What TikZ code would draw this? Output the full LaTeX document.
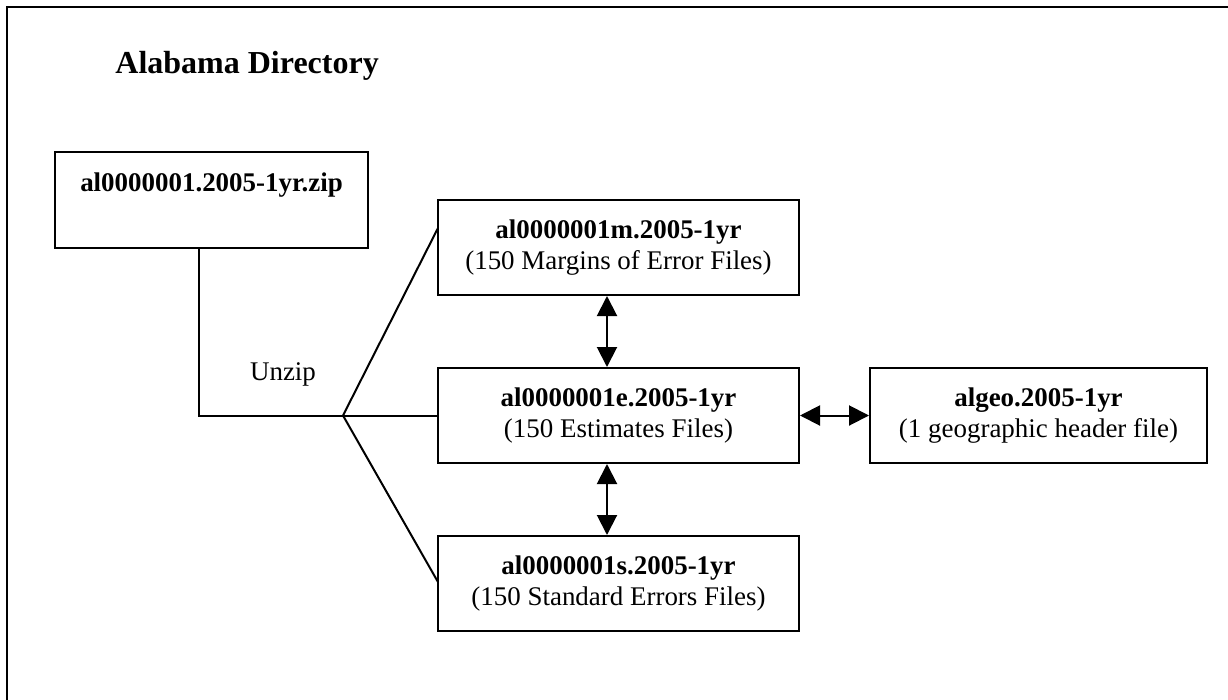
\documentclass[tikz,border=0pt]{standalone}
\usepackage{fontspec}
\setmainfont{Liberation Serif}
\usetikzlibrary{arrows.meta}
\begin{document}
\begin{tikzpicture}[x=0.475pt,y=-0.475pt,
  every node/.style={font=\fontsize{12.8}{15}\selectfont},
  filebox/.style={draw, line width=0.95pt, inner sep=0pt, align=center},
  conn/.style={line width=0.95pt},
  biarrow/.style={line width=0.95pt, {Triangle[length=9.5pt,width=9.5pt]}-{Triangle[length=9.5pt,width=9.5pt]}}]
\useasboundingbox (0,0) rectangle (1228,699);
\draw[line width=1pt] (7,705) -- (7,7) -- (1235,7);
\node[anchor=base west, inner sep=0pt, font=\fontsize{15.2}{18}\selectfont\bfseries] (title) at (115,73) {Alabama Directory};
\node[filebox, minimum width=313*0.475pt, minimum height=96*0.475pt] (zip) at (211.5,200) {};
\node[anchor=base] (ziptext) at (211.5,191) {\textbf{al0000001.2005-1yr.zip}};
\node[filebox, minimum width=361*0.475pt, minimum height=95*0.475pt] (m) at (618.5,247.5) {\textbf{al0000001m.2005-1yr}\\(150 Margins of Error Files)};
\node[filebox, minimum width=361*0.475pt, minimum height=95*0.475pt] (e) at (618.5,415.5) {\textbf{al0000001e.2005-1yr}\\(150 Estimates Files)};
\node[filebox, minimum width=337*0.475pt, minimum height=95*0.475pt] (g) at (1038.5,415.5) {\textbf{algeo.2005-1yr}\\(1 geographic header file)};
\node[filebox, minimum width=361*0.475pt, minimum height=95*0.475pt] (s) at (618.5,583.5) {\textbf{al0000001s.2005-1yr}\\(150 Standard Errors Files)};
\node[anchor=base] (unzip) at (283,380) {Unzip};
\coordinate (j) at (343,415.5);
\coordinate (zx) at (199,0);
\coordinate (ax) at (607,0);
\coordinate (mt) at (438,228);
\coordinate (st) at (438,582);
\draw[conn] (zip.south -| zx) |- (j);
\draw[conn] (j) -- (mt);
\draw[conn] (j) -- (e.west);
\draw[conn] (j) -- (st);
\draw[biarrow] (m.south -| ax) -- (e.north -| ax);
\draw[biarrow] (e.south -| ax) -- (s.north -| ax);
\draw[biarrow] (e.east) -- (g.west);
\end{tikzpicture}
\end{document}
